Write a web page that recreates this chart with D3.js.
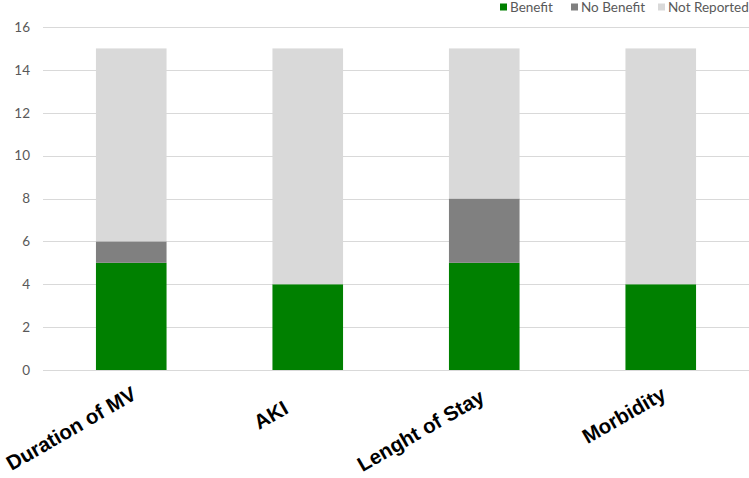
<!DOCTYPE html>
<html><head><meta charset="utf-8">
<script src="https://cdn.jsdelivr.net/npm/d3@7"></script>
<style>body{margin:0;background:#fff}svg{display:block}</style>
</head><body>
<script>
const categories = ["Duration of MV", "AKI", "Lenght of Stay", "Morbidity"];
const categoryLabels = ["Duration of MV", "AKI     ", "Lenght of Stay ", "Morbidity"];
const seriesNames = ["Benefit", "No Benefit", "Not Reported"];
const benefit = [5, 4, 5, 4];
const noBenefit = [1, 0, 3, 0];
const notReported = [9, 11, 7, 11];
const yTicks = [0, 2, 4, 6, 8, 10, 12, 14, 16];
const colors = ["#008000", "#808080", "#d9d9d9"];

const W = 749, H = 478;
const svg = d3.select("body").append("svg").attr("width", W).attr("height", H);
const x = d3.scaleBand().domain(categories).range([43, 749]).paddingInner(0.6).paddingOuter(0.3);
const y = d3.scaleLinear().domain([0, 16]).range([370, 27]);

const rows = categories.map((c, i) => ({cat: c, "Benefit": benefit[i], "No Benefit": noBenefit[i], "Not Reported": notReported[i]}));
const stacked = d3.stack().keys(seriesNames)(rows);

// gridlines
svg.append("g").selectAll("line").data(yTicks).join("line")
  .attr("x1", 43).attr("x2", 749)
  .attr("y1", d => Math.round(y(d)) + 0.5).attr("y2", d => Math.round(y(d)) + 0.5)
  .attr("stroke", "#d9d9d9").attr("stroke-width", 1);

// y axis labels
const yAxis = d3.axisLeft(y).tickValues(yTicks).tickSize(0).tickPadding(0);
const ya = svg.append("g").attr("transform", "translate(30,0)").call(yAxis);
ya.select(".domain").remove();
ya.selectAll("text").attr("fill", "#595959").style("font-family", "Lato, sans-serif").style("font-size", "13.5px");

// bars
svg.append("g").selectAll("g").data(stacked).join("g")
  .attr("fill", (d, i) => colors[i])
  .selectAll("rect").data(d => d).join("rect")
  .attr("x", d => x(d.data.cat))
  .attr("width", x.bandwidth())
  .attr("y", d => y(d[1]))
  .attr("height", d => y(d[0]) - y(d[1]));

// x labels
const xAxis = d3.axisBottom(x).tickSize(0).tickPadding(0)
  .tickFormat(d => categoryLabels[categories.indexOf(d)]);
const xa = svg.append("g").attr("transform", "translate(3,392)").call(xAxis);
xa.select(".domain").remove();
xa.selectAll("text")
  .attr("text-anchor", "end").attr("dy", "0.35em").attr("y", 0)
  .attr("transform", "rotate(-30)")
  .attr("fill", "#000")
  .style("white-space", "pre")
  .style("font-family", "'Liberation Sans', Arial, sans-serif")
  .style("font-weight", "bold").style("font-size", "20.5px");

// legend
const legendX = [500, 571, 658];
const lg = svg.append("g").selectAll("g").data(seriesNames).join("g")
  .attr("transform", (d, i) => `translate(${legendX[i]},7)`);
lg.append("rect").attr("width", 7).attr("height", 7).attr("y", -3.5).attr("fill", (d, i) => colors[i]);
lg.append("text").attr("x", 10).attr("dy", "0.35em").text(d => d)
  .attr("fill", "#595959").style("font-family", "Lato, sans-serif").style("font-size", "13.5px");
</script>
</body></html>
